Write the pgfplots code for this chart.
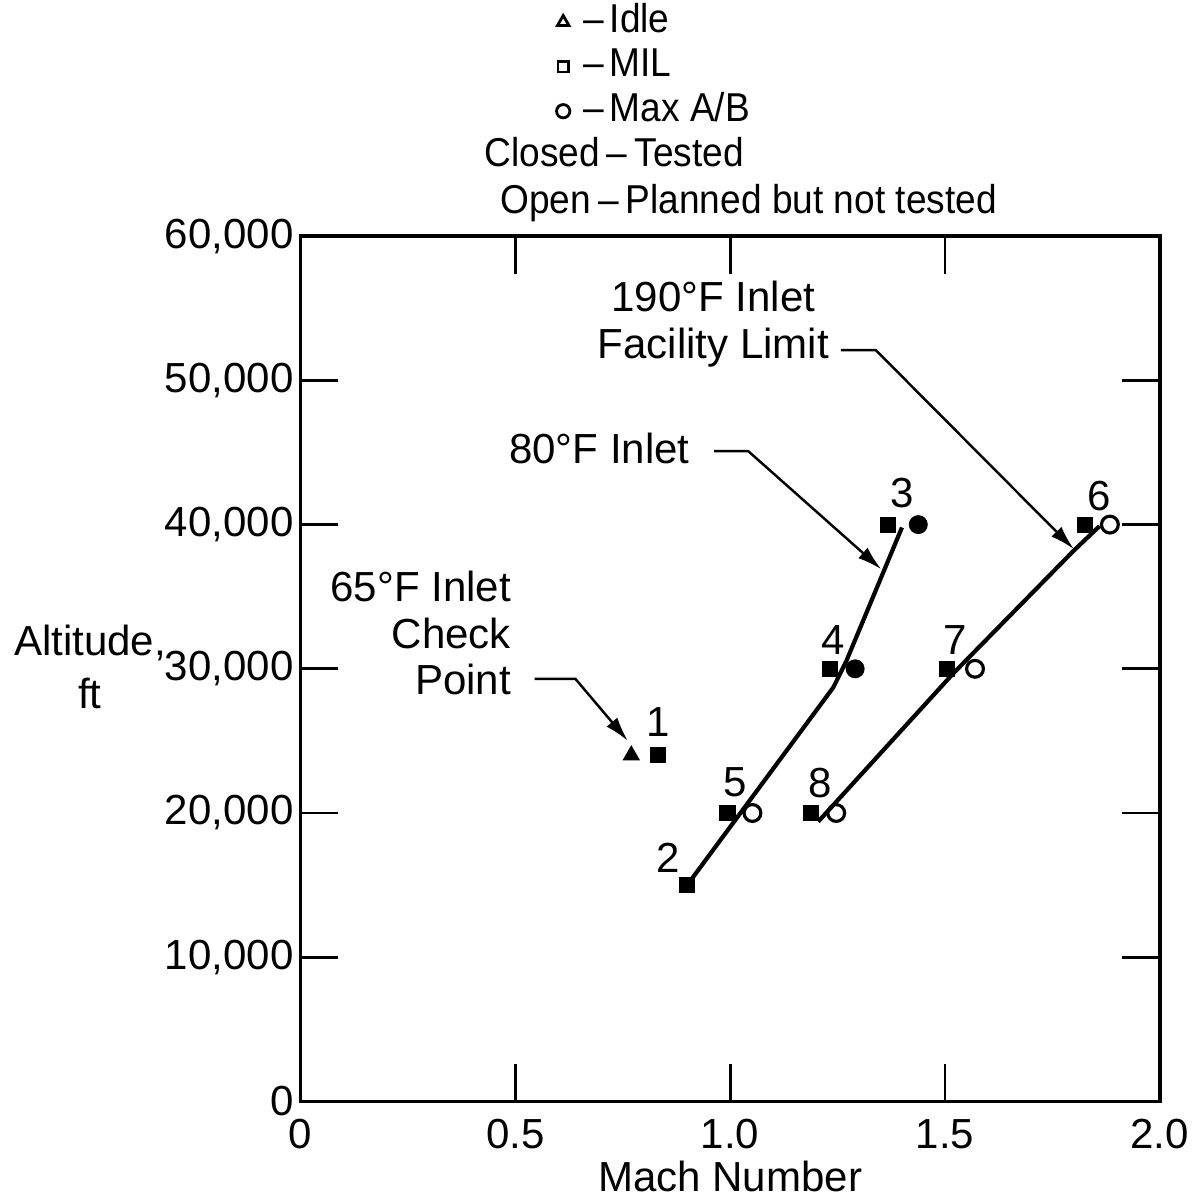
\documentclass[border=0pt]{standalone}
\usepackage{fontspec}
\setmainfont{Liberation Sans}
\newfontfamily\narrowfont[FakeStretch=0.92, Ligatures=TeX]{Liberation Sans}
\usepackage{pgfplots}
\pgfplotsset{compat=1.18}
\usetikzlibrary{arrows.meta}

\begin{document}
\fontsize{12}{14}\selectfont
\begin{tikzpicture}
\begin{axis}[
    scale only axis,
    width=8.62cm, height=8.68cm,
    xmin=0, xmax=2, ymin=0, ymax=60000,
    clip=false,
    axis line style={line width=1pt},
    tick align=inside,
    major tick length=0.38cm,
    tick style={line width=0.8pt, black},
    xtick={0,0.5,1,1.5,2},
    xticklabels={0,0.5,1.0,1.5,2.0},
    ytick={0,10000,20000,30000,40000,50000,60000},
    scaled y ticks=false,
    /pgf/number format/assume math mode=true,
    /pgf/number format/1000 sep={,},
    ticklabel style={font=\fontsize{12}{14}\selectfont},
    yticklabel style={xshift=2.2pt},
    xticklabel style={yshift=-1pt},
    xlabel={Mach Number},
    xlabel style={at={(axis description cs:0.5,0)}, anchor=center,
        yshift=-0.75cm, inner sep=1pt},
    ylabel={Altitude,\\ft},
    ylabel style={rotate=-90, align=center, anchor=center,
        at={(axis description cs:-0.245,0.502)},
        font=\fontsize{12}{15}\selectfont},
    legend image code/.code={\draw[#1] plot coordinates {(0cm,0cm)};},
    legend style={draw=none, fill=none, inner sep=0pt, outer sep=0pt,
        at={(axis description cs:0.298,1.273)}, anchor=north west,
        font=\narrowfont\fontsize{11.5}{13}\selectfont,
        nodes={inner sep=1pt, text height=8.2pt, text depth=2.5pt},
        row sep=0pt},
    legend cell align=left,
]

% legend symbols (open)
\addlegendimage{only marks, mark=triangle, mark size=1.9pt, line width=0.8pt}
\addlegendentry{\kern3pt--\kern1.5pt Idle}
\addlegendimage{only marks, mark=square, mark size=1.5pt, line width=0.8pt}
\addlegendentry{\kern3pt--\kern1.5pt MIL}
\addlegendimage{only marks, mark=o, mark size=1.9pt, line width=0.8pt}
\addlegendentry{\kern3pt--\kern1.5pt Max A/B}

% limit lines
\addplot[black, line width=1.2pt, forget plot] coordinates {
    (0.90,15000) (1.24,28700) (1.27,30500) (1.40,39800)};
\addplot[black, line width=1.2pt, forget plot] coordinates {
    (1.205,19400) (1.52,29700) (1.80,38200) (1.86,39900)};

% Idle, tested
\addplot[only marks, mark=triangle*, mark size=2.5pt, black, forget plot]
    coordinates {(0.770,24000)};
% MIL, tested
\addplot[only marks, mark=square*, mark size=2.1pt, black, forget plot]
    coordinates {(0.833,24000) (0.899,15000) (1.368,40000) (1.233,30000)
                 (0.994,20000) (1.827,40000) (1.504,30000) (1.189,20000)};
% Max A/B, tested
\addplot[only marks, mark=*, mark size=2.5pt, black, forget plot]
    coordinates {(1.438,40000) (1.291,30000)};
% Max A/B, planned but not tested
\addplot[only marks, mark=o, mark size=2.4pt, line width=0.9pt, black,
    mark options={fill=white}, forget plot]
    coordinates {(1.884,40000) (1.570,30000) (1.052,20000) (1.247,20000)};

% point numbers
\node at (axis cs:0.833,26300) {1};
\node at (axis cs:0.856,16900) {2};
\node at (axis cs:1.401,42200) {3};
\node at (axis cs:1.239,32000) {4};
\node at (axis cs:1.012,22100) {5};
\node at (axis cs:1.858,42000) {6};
\node at (axis cs:1.524,32000) {7};
\node at (axis cs:1.209,22100) {8};

% annotations
\node[align=right, anchor=east, font=\fontsize{12}{13.2}\selectfont]
    at (axis cs:0.524,32480) {65°F Inlet\\Check\\Point};
\draw[line width=0.7pt, -{Latex[length=7pt,width=4pt]}]
    (axis cs:0.545,29300) -- (axis cs:0.640,29300) -- (axis cs:0.762,25000);

\node[anchor=east] at (axis cs:0.94,45270) {80°F Inlet};
\draw[line width=0.7pt, -{Latex[length=7pt,width=4pt]}]
    (axis cs:0.963,45100) -- (axis cs:1.042,45100) -- (axis cs:1.352,36900);

\node[align=center, font=\fontsize{12}{13.2}\selectfont]
    at (axis cs:0.961,53900) {190°F Inlet\\Facility Limit};
\draw[line width=0.7pt, -{Latex[length=7pt,width=4pt]}]
    (axis cs:1.258,52100) -- (axis cs:1.339,52100) -- (axis cs:1.80,38300);

% filled / open meaning
\node[anchor=west, inner sep=0pt, font=\narrowfont\fontsize{11.5}{13}\selectfont]
    at (axis description cs:0.2135,1.0966) {Closed\kern2pt--\kern2pt Tested};
\node[anchor=west, inner sep=0pt, font=\narrowfont\fontsize{11.5}{13}\selectfont]
    at (axis description cs:0.232,1.0385) {Open\kern2pt--\kern2pt Planned but not tested};

\end{axis}
\end{tikzpicture}
\end{document}
